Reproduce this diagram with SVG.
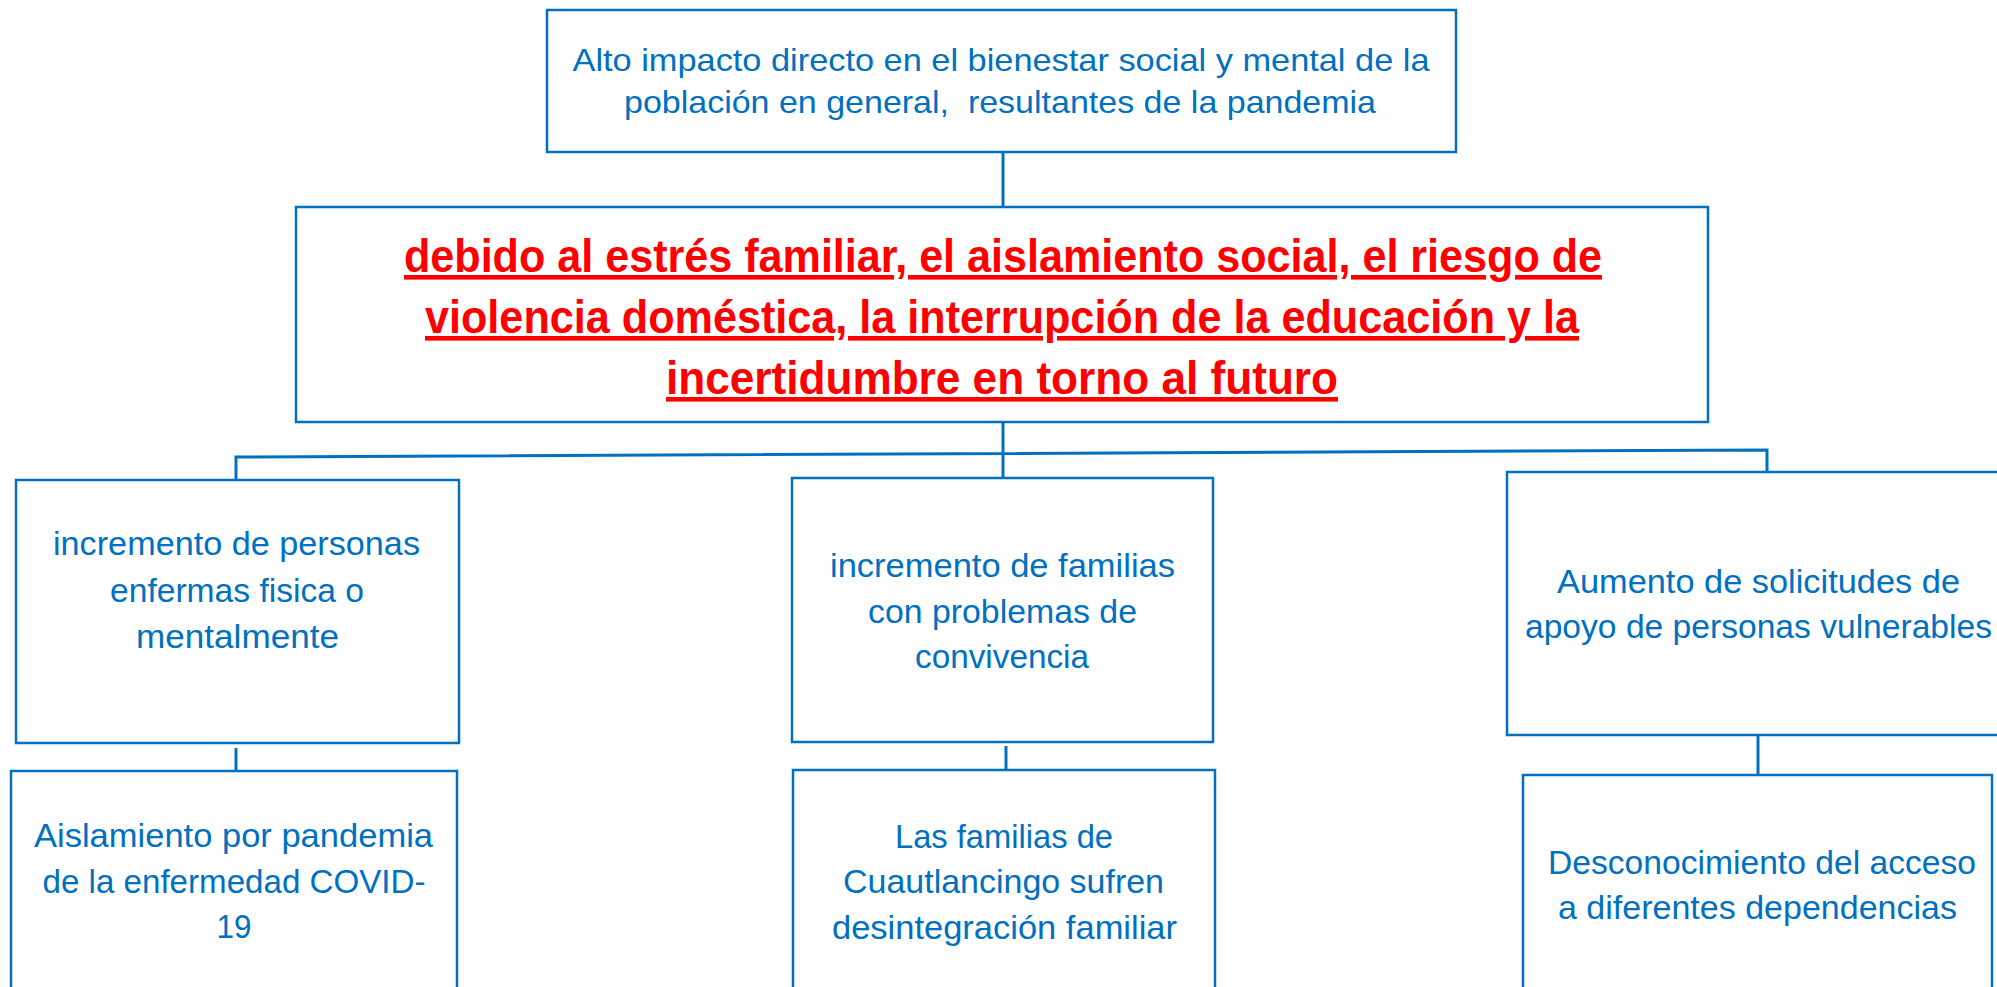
<svg xmlns="http://www.w3.org/2000/svg" width="1997" height="987" viewBox="0 0 1997 987">
<style>
.box{fill:#fff;stroke:#0070C0;stroke-width:2.5}
.con{fill:none;stroke:#0070C0;stroke-width:3}
.t{font-family:"Liberation Sans",Arial,sans-serif;font-size:34px;fill:#0070C0;text-anchor:middle}
.tt{font-family:"Liberation Sans",Arial,sans-serif;font-size:32px;fill:#0070C0;text-anchor:middle}
.r{font-family:"Liberation Sans",Arial,sans-serif;font-size:46px;font-weight:bold;fill:#FF0000;text-anchor:middle;text-decoration:underline}
</style>
<rect width="1997" height="987" fill="#fff"/>
<g id="connectors">
<line class="con" x1="1003" y1="152" x2="1003" y2="207"/>
<line class="con" x1="1003" y1="422" x2="1003" y2="478"/>
<polyline class="con" points="236,480 236,457 1767,450 1767,472"/>
<line class="con" x1="236" y1="748" x2="236" y2="771"/>
<line class="con" x1="1006" y1="746" x2="1006" y2="770"/>
<line class="con" x1="1758" y1="735" x2="1758" y2="775"/>
</g>
<g id="top">
<rect class="box" x="547" y="10" width="909" height="142"/>
<text class="tt" x="1001" y="71" textLength="857" lengthAdjust="spacingAndGlyphs">Alto impacto directo en el bienestar social y mental de la</text>
<text class="tt" x="1000" y="113" textLength="752" lengthAdjust="spacingAndGlyphs" xml:space="preserve">población en general,  resultantes de la pandemia</text>
</g>
<g id="middle">
<rect class="box" x="296" y="207" width="1412" height="215"/>
<text class="r" x="1003" y="272" textLength="1198" lengthAdjust="spacingAndGlyphs">debido al estrés familiar, el aislamiento social, el riesgo de</text>
<text class="r" x="1002" y="333" textLength="1154" lengthAdjust="spacingAndGlyphs">violencia doméstica, la interrupción de la educación y la</text>
<text class="r" x="1002" y="394" textLength="672" lengthAdjust="spacingAndGlyphs">incertidumbre en torno al futuro</text>
</g>
<g id="left">
<rect class="box" x="16" y="480" width="443" height="263"/>
<text class="t" x="236.5" y="555" textLength="367" lengthAdjust="spacingAndGlyphs">incremento de personas</text>
<text class="t" x="237" y="602" textLength="254" lengthAdjust="spacingAndGlyphs">enfermas fisica o</text>
<text class="t" x="237.5" y="648" textLength="203" lengthAdjust="spacingAndGlyphs">mentalmente</text>
</g>
<g id="center">
<rect class="box" x="792" y="478" width="421" height="264"/>
<text class="t" x="1002.5" y="577" textLength="345" lengthAdjust="spacingAndGlyphs">incremento de familias</text>
<text class="t" x="1002.5" y="623" textLength="269" lengthAdjust="spacingAndGlyphs">con problemas de</text>
<text class="t" x="1002" y="668" textLength="174" lengthAdjust="spacingAndGlyphs">convivencia</text>
</g>
<g id="right">
<rect class="box" x="1507" y="472" width="520" height="263"/>
<text class="t" x="1758.5" y="593" textLength="403" lengthAdjust="spacingAndGlyphs">Aumento de solicitudes de</text>
<text class="t" x="1758.5" y="638" textLength="467" lengthAdjust="spacingAndGlyphs">apoyo de personas vulnerables</text>
</g>
<g id="bottom-left">
<rect class="box" x="11" y="771" width="446" height="240"/>
<text class="t" x="233.5" y="847" textLength="399" lengthAdjust="spacingAndGlyphs">Aislamiento por pandemia</text>
<text class="t" x="234" y="893" textLength="383" lengthAdjust="spacingAndGlyphs">de la enfermedad COVID-</text>
<text class="t" x="234" y="938" textLength="35" lengthAdjust="spacingAndGlyphs">19</text>
</g>
<g id="bottom-center">
<rect class="box" x="793" y="770" width="422" height="240"/>
<text class="t" x="1004" y="848" textLength="218" lengthAdjust="spacingAndGlyphs">Las familias de</text>
<text class="t" x="1003.5" y="893" textLength="321" lengthAdjust="spacingAndGlyphs">Cuautlancingo sufren</text>
<text class="t" x="1004.5" y="939" textLength="345" lengthAdjust="spacingAndGlyphs">desintegración familiar</text>
</g>
<g id="bottom-right">
<rect class="box" x="1523" y="775" width="469" height="240"/>
<text class="t" x="1762" y="874" textLength="428" lengthAdjust="spacingAndGlyphs">Desconocimiento del acceso</text>
<text class="t" x="1757.5" y="919" textLength="399" lengthAdjust="spacingAndGlyphs">a diferentes dependencias</text>
</g>
</svg>
